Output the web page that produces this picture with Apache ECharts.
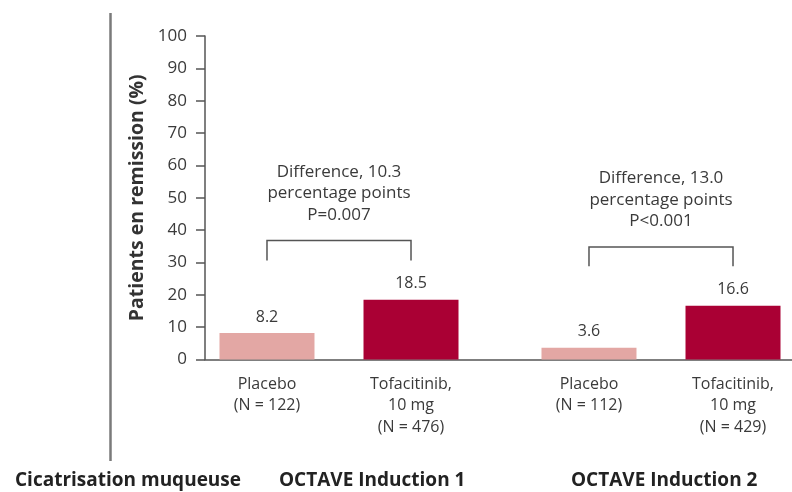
<!DOCTYPE html>
<html><head><meta charset="utf-8">
<script src="https://cdn.jsdelivr.net/npm/echarts@6/dist/echarts.min.js"></script>
<style>html,body{margin:0;padding:0;background:#fff}#c{width:792px;height:492px}</style>
</head><body><div id="c"></div>
<script>
// ---- data ----
const groups = ['OCTAVE Induction 1', 'OCTAVE Induction 2'];
const placeboValues = [8.2, 3.6];
const tofacitinibValues = [18.5, 16.6];
const placeboLabels = ['Placebo\n(N = 122)', 'Placebo\n(N = 112)'];
const tofacitinibLabels = ['Tofacitinib,\n10 mg\n(N = 476)', 'Tofacitinib,\n10 mg\n(N = 429)'];
const bracketBottom = [30.6, 28.8];
const bracketTop = [36.8, 34.8];
const differenceTexts = ['Difference, 10.3\npercentage points\nP=0.007', 'Difference, 13.0\npercentage points\nP<0.001'];
const yMin = 0, yMax = 100, yInterval = 10;
const yAxisName = 'Patients en remission (%)';
const sideLabel = 'Cicatrisation muqueuse';

// ---- style ----
const FONT = '"Open Sans", "Noto Sans", sans-serif';
const TXT = '#3a3a3a';
const AXIS = '#555555';
const BAR_WIDTH = 95;
const BAR_GAP_RATIO = 0.516;
const PLACEBO_COLOR = '#E3A7A4';
const TOFA_COLOR = '#AA0034';

const chart = echarts.init(document.getElementById('c'), null, {renderer: 'canvas'});

const bracketData = groups.map((g, i) => [i, bracketBottom[i], bracketTop[i]]);

const gridTop = 36, gridBottom = 132.5;

const option = {
  animation: false,
  backgroundColor: '#ffffff',
  textStyle: {fontFamily: FONT},
  grid: [
    {left: 178, width: 644, top: gridTop, bottom: gridBottom, containLabel: false, outerBoundsMode: 'none'},
    {left: 205, right: 0, top: gridTop, bottom: gridBottom, containLabel: false, outerBoundsMode: 'none'}
  ],
  xAxis: [
    {type: 'category', gridIndex: 0, data: groups, show: false},
    {type: 'category', gridIndex: 0, data: groups, show: false},
    {type: 'value', gridIndex: 1, min: 0, max: 1,
     axisLine: {show: true, lineStyle: {color: AXIS, width: 1.5}},
     axisTick: {show: false}, axisLabel: {show: false}, splitLine: {show: false}}
  ],
  yAxis: [
    {type: 'value', gridIndex: 0, min: yMin, max: yMax, show: false},
    {type: 'value', gridIndex: 1, min: yMin, max: yMax, interval: yInterval,
     name: yAxisName, nameLocation: 'middle', nameGap: 57, nameRotate: 90,
     nameTextStyle: {fontFamily: FONT, fontWeight: 'bold', fontSize: 19.5, color: '#333'},
     axisLine: {show: true, lineStyle: {color: AXIS, width: 1.5}},
     axisTick: {show: true, inside: false, length: 9, lineStyle: {color: AXIS, width: 1.5}},
     axisLabel: {margin: 18, fontSize: 17, color: TXT, fontFamily: FONT},
     splitLine: {show: false}}
  ],
  series: [
    {type: 'bar', name: 'Placebo', xAxisIndex: 0, yAxisIndex: 0, data: placeboValues,
     barWidth: BAR_WIDTH, barGap: (BAR_GAP_RATIO * 100) + '%',
     itemStyle: {color: PLACEBO_COLOR},
     label: {show: true, position: 'top', distance: 8, fontSize: 16, color: TXT, fontFamily: FONT}},
    {type: 'bar', name: 'Tofacitinib', xAxisIndex: 0, yAxisIndex: 0, data: tofacitinibValues,
     barWidth: BAR_WIDTH, barGap: (BAR_GAP_RATIO * 100) + '%',
     itemStyle: {color: TOFA_COLOR},
     label: {show: true, position: 'top', distance: 8, fontSize: 16, color: TXT, fontFamily: FONT}},
    {type: 'bar', name: 'PlaceboNames', xAxisIndex: 1, yAxisIndex: 0, data: placeboValues, silent: true,
     barWidth: BAR_WIDTH, barGap: (BAR_GAP_RATIO * 100) + '%',
     itemStyle: {color: 'rgba(0,0,0,0)'},
     label: {show: true, position: 'bottom', distance: 14, fontSize: 16, lineHeight: 21.5, color: TXT,
             fontFamily: FONT, align: 'center', formatter: p => placeboLabels[p.dataIndex]}},
    {type: 'bar', name: 'TofaNames', xAxisIndex: 1, yAxisIndex: 0, data: tofacitinibValues, silent: true,
     barWidth: BAR_WIDTH, barGap: (BAR_GAP_RATIO * 100) + '%',
     itemStyle: {color: 'rgba(0,0,0,0)'},
     label: {show: true, position: 'bottom', distance: 14, fontSize: 16, lineHeight: 21.5, color: TXT,
             fontFamily: FONT, align: 'center', formatter: p => tofacitinibLabels[p.dataIndex]}},
    {type: 'custom', xAxisIndex: 0, yAxisIndex: 0, data: bracketData, clip: false, silent: true,
     encode: {x: 0, y: [1, 2]}, z: 5,
     renderItem: function (params, api) {
       const idx = api.value(0);
       const top = api.coord([idx, api.value(2)]);
       const bot = api.coord([idx, api.value(1)]);
       const half = BAR_WIDTH * (1 + BAR_GAP_RATIO) / 2;
       const xl = top[0] - half, xr = top[0] + half;
       return {type: 'group', children: [
         {type: 'polyline', shape: {points: [[xl, bot[1]], [xl, top[1]], [xr, top[1]], [xr, bot[1]]]},
          style: {stroke: AXIS, lineWidth: 1.5, fill: null}},
         {type: 'text', x: top[0], y: top[1] - 15,
          style: {text: differenceTexts[params.dataIndex], align: 'center', verticalAlign: 'bottom',
                  fontSize: 17, lineHeight: 21.5, fontFamily: FONT, fill: TXT}}
       ]};
     }}
  ],
  graphic: [
    {type: 'line', shape: {x1: 110.5, y1: 13, x2: 110.5, y2: 461}, style: {stroke: '#7a7a7a', lineWidth: 2.5}},
    {type: 'text', x: 15, y: 481, style: {text: sideLabel, fontSize: 19, fontWeight: 'bold', fontFamily: FONT, fill: '#222', verticalAlign: 'middle'}},
    {type: 'text', x: 279, y: 481, style: {text: groups[0], fontSize: 19, fontWeight: 'bold', fontFamily: FONT, fill: '#222', verticalAlign: 'middle'}},
    {type: 'text', x: 571, y: 481, style: {text: groups[1], fontSize: 19, fontWeight: 'bold', fontFamily: FONT, fill: '#222', verticalAlign: 'middle'}}
  ]
};
chart.setOption(option);
</script>
</body></html>
